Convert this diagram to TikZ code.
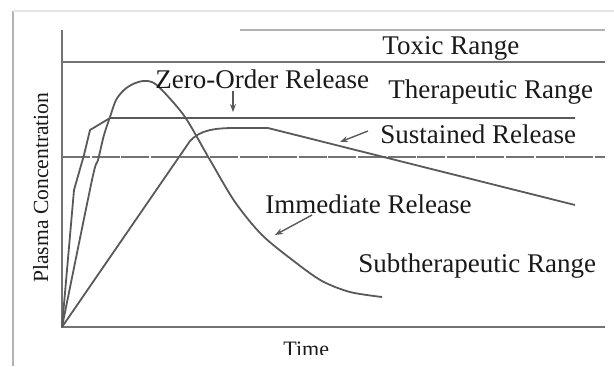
\documentclass[tikz,border=0pt]{standalone}
\usepackage{fontspec}
\setmainfont{Liberation Serif}
\usetikzlibrary{arrows.meta}

\begin{document}
\begin{tikzpicture}[x=0.5pt,y=-0.5pt,
    lbl/.style={font=\fontsize{13.5}{16}\selectfont, text=black!90, inner sep=0pt, anchor=base west},
    smalllbl/.style={lbl, font=\fontsize{10.8}{13}\selectfont},
    curve/.style={draw=black!65, line width=0.9pt, line join=round},
    guide/.style={draw=black!55, line width=0.7pt},
    pointer/.style={draw=black!65, line width=0.7pt, -{Stealth[length=4pt,width=3pt]}}]
    \useasboundingbox (0,0) rectangle (614,366);

    % frame of the figure
    \draw[black!30, line width=1.3pt] (13,366) -- (13,11);
    \draw[black!10, line width=1pt] (13,11) -- (614,11);

    % axes and range limits
    \coordinate (O) at (62,327);
    \draw[guide] (62,30) -- (O) -- (605,327);
    \draw[guide, black!30] (240,30) -- (605,30);
    \draw[guide] (62,62) -- (605,62);
    \draw[guide, dash pattern=on 14pt off 0.8pt] (62,157) -- (605,157);

    % immediate release
    \draw[curve] plot[smooth, tension=0.5] coordinates {(62,327) (92,180) (98,160) (104,135)
        (110,117) (116,100) (124,90) (133,84) (143,81) (152,82) (162,90) (185,117) (210,160)
        (235,202) (262,235) (295,262) (322,281) (350,292) (382,297)};
    % zero-order release
    \draw[curve] (O) -- (74,190) -- (84,155) -- (90,130) -- (110,118) -- (575,118);
    % sustained release
    \draw[curve] (O) -- (190,141) .. controls (200,130) and (215,128) .. (235,128)
        -- (268,128) -- (575,205);

    % labels
    \node[lbl] (toxic) at (382,54) {Toxic Range};
    \node[lbl] (zero) at (155,88) {Zero-Order Release};
    \node[lbl] (thera) at (388,98) {Therapeutic Range};
    \node[lbl] (sust) at (380,143) {Sustained Release};
    \node[lbl] (immed) at (265,213) {Immediate Release};
    \node[lbl] (subther) at (358,272) {Subtherapeutic Range};
    \node[smalllbl, rotate=90] (yaxis) at (48,283) {Plasma Concentration};
    \begin{scope}
        \clip (0,0) rectangle (614,354);
        \node[smalllbl, font=\fontsize{11}{13}\selectfont] (time) at (283,356) {Time};
    \end{scope}

    % pointers to the curves
    \coordinate (zeroTail) at (233,91);
    \coordinate (zeroHead) at (233,112);
    \coordinate (sustTail) at (368,131);
    \coordinate (sustHead) at (340,142);
    \coordinate (immedTail) at (312,215);
    \coordinate (immedHead) at (275,235);
    \draw[pointer] (zeroTail) -- (zeroHead);
    \draw[pointer] (sustTail) -- (sustHead);
    \draw[pointer] (immedTail) -- (immedHead);
\end{tikzpicture}
\end{document}
